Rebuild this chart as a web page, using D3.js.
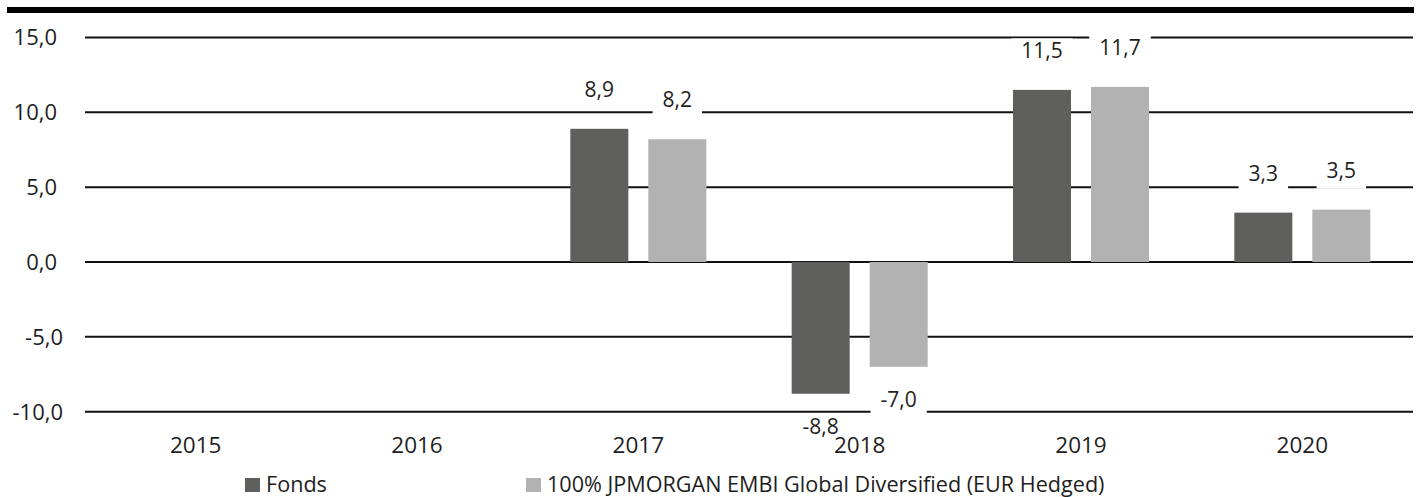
<!DOCTYPE html>
<html>
<head>
<meta charset="utf-8">
<script src="https://cdn.jsdelivr.net/npm/d3@7"></script>
<style>
  body { margin: 0; background: #fff; }
  svg { display: block; font-family: "Open Sans", "Noto Sans", sans-serif; }
</style>
</head>
<body>
<script>
// data
const years = ["2015", "2016", "2017", "2018", "2019", "2020"];
const fonds = [null, null, 8.9, -8.8, 11.5, 3.3];
const bench = [null, null, 8.2, -7.0, 11.7, 3.5];
const seriesNames = ["Fonds", "100% JPMORGAN EMBI Global Diversified (EUR Hedged)"];
const seriesColors = ["#5f5f5d", "#b2b2b2"];
const yTicks = [-10, -5, 0, 5, 10, 15];

const width = 1419, height = 497;
const textColor = "#1e1e1e";

const locale = d3.formatLocale({ decimal: ",", thousands: ".", grouping: [3], currency: ["", "€"], minus: "-" });
const fmt = locale.format(".1f");

const svg = d3.select("body").append("svg")
  .attr("width", width)
  .attr("height", height);

const x = d3.scaleBand().domain(years).range([85, 1413]);
const xs = d3.scaleBand().domain([0, 1]).range([0, x.bandwidth()])
  .paddingInner(0.2564).paddingOuter(0.547);
const y = d3.scaleLinear().domain([-10, 15]).range([411.7, 37.5]);

// top black rule
svg.append("rect")
  .attr("x", 7).attr("y", 7)
  .attr("width", 1407).attr("height", 6)
  .attr("fill", "#000");

// gridlines
svg.append("g").selectAll("line")
  .data(yTicks)
  .join("line")
  .attr("x1", 85).attr("x2", 1413)
  .attr("y1", d => y(d)).attr("y2", d => y(d))
  .attr("stroke", "#111")
  .attr("stroke-width", 2);

// y tick labels
svg.append("g").selectAll("text")
  .data(yTicks)
  .join("text")
  .attr("x", d => d < 0 ? 63 : 57)
  .attr("y", d => y(d))
  .attr("dy", "0.36em")
  .attr("text-anchor", "end")
  .attr("font-size", 22)
  .attr("fill", textColor)
  .text(d => fmt(d));

// bars
const barData = [];
years.forEach((yr, i) => {
  [fonds, bench].forEach((s, k) => {
    if (s[i] != null) barData.push({ year: yr, k: k, v: s[i] });
  });
});

svg.append("g").selectAll("rect")
  .data(barData)
  .join("rect")
  .attr("x", d => x(d.year) + xs(d.k))
  .attr("width", xs.bandwidth())
  .attr("y", d => y(Math.max(0, d.v)))
  .attr("height", d => Math.abs(y(d.v) - y(0)))
  .attr("fill", d => seriesColors[d.k]);

// value labels with white boxes
const labG = svg.append("g");
barData.forEach(d => {
  const cx = x(d.year) + xs(d.k) + xs.bandwidth() / 2;
  const base = d.v >= 0 ? y(d.v) - 32 : y(d.v) + 40;
  const g = labG.append("g");
  const box = g.append("rect").attr("fill", "#fff");
  const t = g.append("text")
    .attr("x", cx)
    .attr("y", base)
    .attr("text-anchor", "middle")
    .attr("font-size", 21)
    .attr("fill", textColor)
    .text(fmt(d.v));
  const w = t.node().getComputedTextLength() + 20;
  box.attr("x", cx - w / 2).attr("y", base - 19.5)
    .attr("width", w).attr("height", 30.5);
});

// x labels
svg.append("g").selectAll("text")
  .data(years)
  .join("text")
  .attr("x", d => x(d) + x.bandwidth() / 2)
  .attr("y", 453)
  .attr("text-anchor", "middle")
  .attr("font-size", 22.5)
  .attr("fill", textColor)
  .text(d => d);

// legend
const legendX = [245, 526];
const leg = svg.append("g").selectAll("g")
  .data(seriesNames)
  .join("g")
  .attr("transform", (d, i) => `translate(${legendX[i]},478)`);
leg.append("rect")
  .attr("width", 15).attr("height", 14)
  .attr("fill", (d, i) => seriesColors[i]);
leg.append("text")
  .attr("x", 21).attr("y", 14)
  .attr("font-size", 21.6)
  .attr("fill", textColor)
  .text(d => d);
</script>
</body>
</html>
